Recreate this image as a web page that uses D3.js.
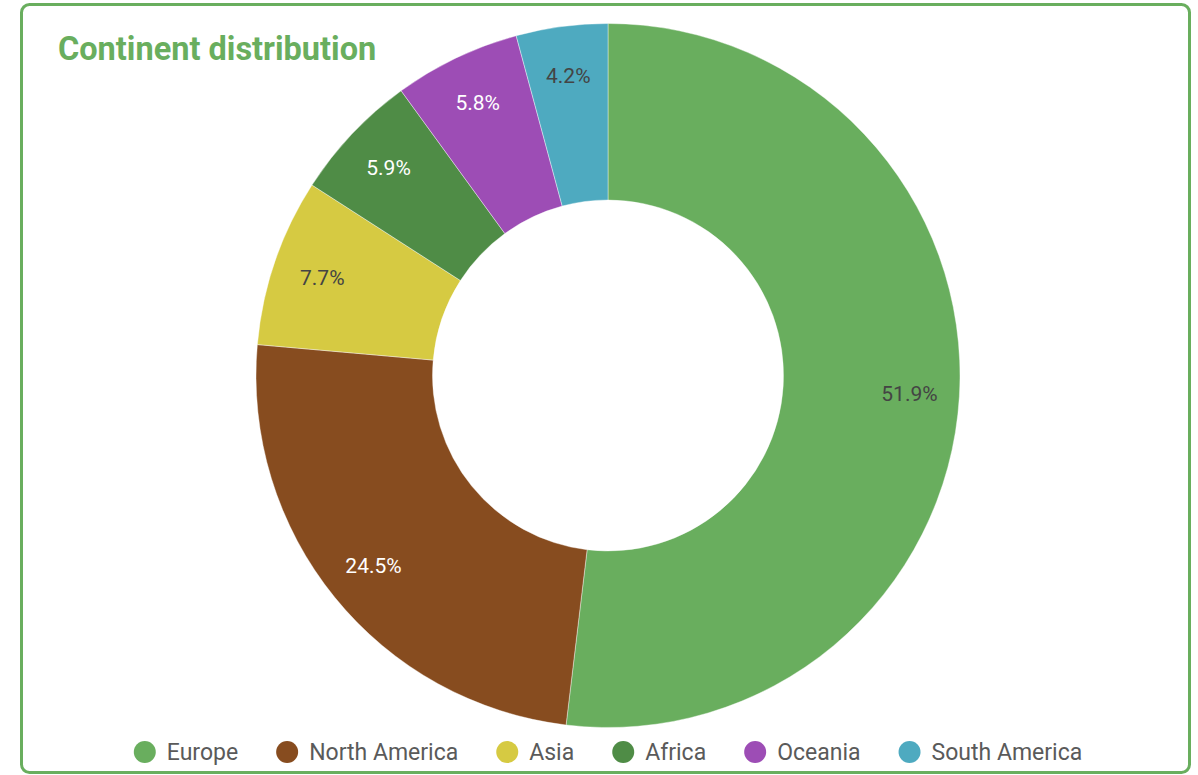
<!DOCTYPE html>
<html>
  <head>
    <title>Continent distribution</title>
    <script src="https://d3js.org/d3.v7.min.js"></script>
    <style>
    body { margin: 0; background: white; }
    text { font-family: Roboto, "Noto Sans", sans-serif; }
    </style>
  </head>
  <body>
    <script>
      var width = 1198;
      var height = 775;

      var continents = ["Europe", "North America", "Asia", "Africa", "Oceania", "South America"];
      var shares = [51.9, 24.5, 7.7, 5.9, 5.8, 4.2];
      var colors = ["#69ae5e", "#874c1f", "#d6ca42", "#4f8c46", "#9d4db5", "#4eaac0"];
      var labelColors = ["#444", "#fff", "#444", "#fff", "#fff", "#444"];

      var data = continents.map(function(c, i) {
        return {name: c, value: shares[i], color: colors[i], label: labelColors[i]};
      });

      var svg = d3.select("body")
                  .append("svg")
                  .attr("width", width)
                  .attr("height", height);

      // card
      svg.append("rect")
         .attr("x", 21.5)
         .attr("y", 4.5)
         .attr("width", 1168)
         .attr("height", 768)
         .attr("rx", 8)
         .attr("fill", "white")
         .attr("stroke", "#69ae5e")
         .attr("stroke-width", 3);

      svg.append("text")
         .attr("x", 58)
         .attr("y", 60)
         .attr("fill", "#69ae5e")
         .style("font-size", "32.5px")
         .style("font-weight", "bold")
         .text("Continent distribution");

      var cx = 608, cy = 375.5;
      var pie = d3.pie().value(function(d) { return d.value; }).sort(null);
      var arcs = pie(data);

      var segments = d3.arc().innerRadius(175.5).outerRadius(352);
      var labelArc = d3.arc().innerRadius(302).outerRadius(302);

      var g = svg.append("g").attr("transform", "translate(" + cx + "," + cy + ")");

      g.selectAll("path")
       .data(arcs)
       .enter()
       .append("path")
       .attr("d", segments)
       .attr("fill", function(d) { return d.data.color; })
       .attr("stroke", "white")
       .attr("stroke-width", 0.4);

      g.selectAll("text")
       .data(arcs)
       .enter()
       .append("text")
       .each(function(d) {
         var c = labelArc.centroid(d);
         d3.select(this)
           .attr("x", c[0])
           .attr("y", c[1])
           .attr("text-anchor", "middle")
           .attr("dominant-baseline", "central")
           .attr("fill", d.data.label)
           .style("font-size", "21px")
           .text(d.data.value.toFixed(1) + "%");
       });

      // legend, centred under the donut
      var legend = svg.append("g");
      var ly = 752, r = 11, textGap = 11, itemGap = 38;
      var items = legend.selectAll("g")
                        .data(data)
                        .enter()
                        .append("g");
      items.append("circle")
           .attr("r", r)
           .attr("cy", ly)
           .attr("fill", function(d) { return d.color; });
      items.append("text")
           .attr("y", ly)
           .attr("dominant-baseline", "central")
           .attr("fill", "#5a5a5a")
           .style("font-size", "23px")
           .text(function(d) { return d.name; });

      var x = 0;
      items.each(function(d) {
        var w = d3.select(this).select("text").node().getComputedTextLength();
        d3.select(this).select("circle").attr("cx", x + r);
        d3.select(this).select("text").attr("x", x + 2 * r + textGap);
        x += 2 * r + textGap + w + itemGap;
      });
      var total = x - itemGap;
      legend.attr("transform", "translate(" + (cx - total / 2) + ",0)");
    </script>
  </body>
</html>
